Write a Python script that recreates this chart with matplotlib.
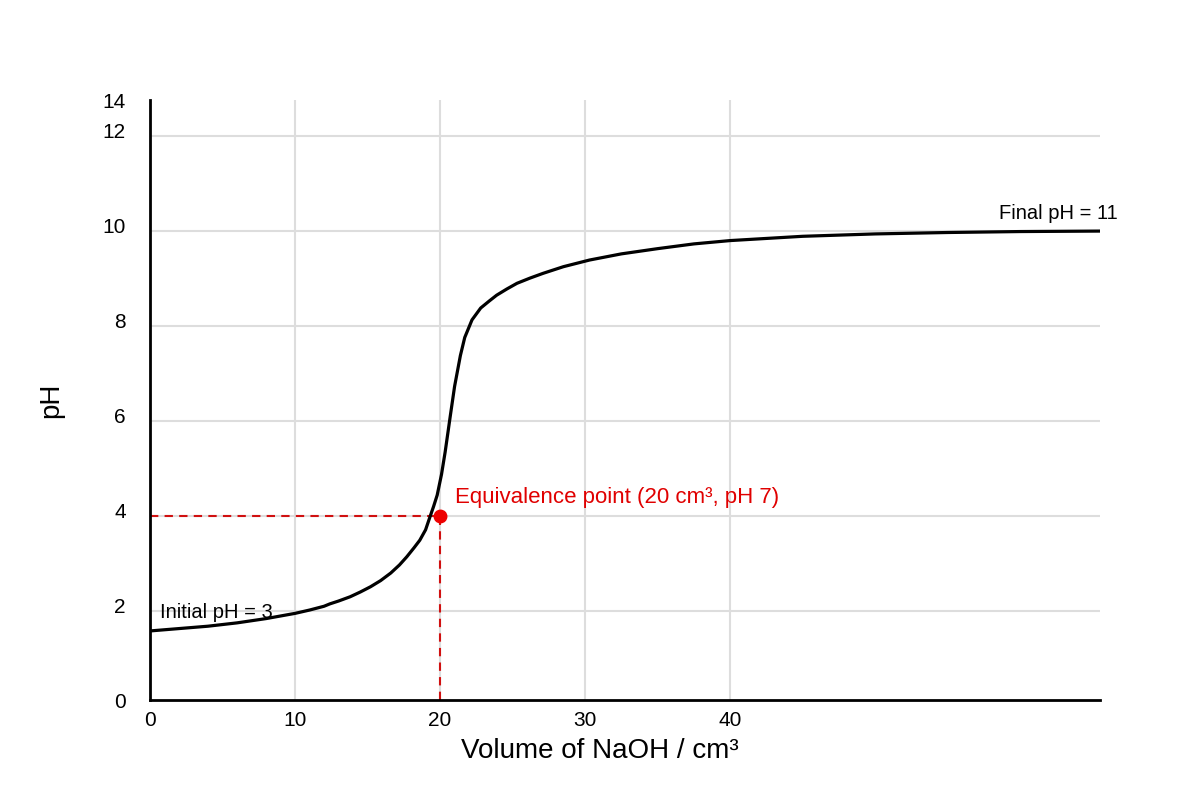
import numpy as np
import matplotlib
matplotlib.use('Agg')
import matplotlib.pyplot as plt

plt.rcParams['font.family'] = ['Liberation Sans', 'DejaVu Sans']

# titration curve (y in gridline units)
volume = [0, 2, 4, 6, 8, 10, 11, 12, 12.4, 13, 13.8, 14.5, 15.2, 15.9, 16.6,
          17.2, 17.7, 18.2, 18.6, 19.0, 19.3, 19.55, 19.8, 20.1, 20.35, 20.7,
          21.0, 21.4, 21.7, 22.2, 22.8, 23.4, 23.9, 24.6, 25.3, 26.2, 27.1,
          28.5, 30.3, 32.5, 35, 37.5, 40, 45, 50, 55, 60, 65.5]
ph = [1.58, 1.63, 1.68, 1.75, 1.84, 1.95, 2.02, 2.10, 2.15, 2.21, 2.30, 2.40,
      2.51, 2.64, 2.80, 2.97, 3.14, 3.33, 3.49, 3.71, 3.98, 4.20, 4.44, 4.88,
      5.35, 6.10, 6.73, 7.38, 7.76, 8.13, 8.38, 8.53, 8.65, 8.78, 8.90, 9.01,
      9.11, 9.25, 9.39, 9.52, 9.63, 9.73, 9.80, 9.89, 9.94, 9.97, 9.99, 10.0]

eq_x, eq_y = 20, 4
x_ticks = [0, 10, 20, 30, 40]
y_labels = ['0', '2', '4', '6', '8', '10', '12', '14']
grid_y = [2, 4, 6, 8, 10, 12]
grid_x = [10, 20, 30, 40]

fig = plt.figure(figsize=(12, 8), dpi=100)
ax = fig.add_axes([0.125, 0.125, 0.7917, 0.75])

y_lo, y_hi = 0.126, 12.76
x_hi = 65.5
ax.set_xlim(0, x_hi)
ax.set_ylim(y_lo, y_hi)

# grid
for g in grid_y:
    ax.axhline(g, color='#dddddd', lw=1.5, zorder=0)
for g in grid_x:
    ax.axvline(g, color='#dddddd', lw=1.5, zorder=0)

# curve
ax.plot(volume, ph, color='black', lw=2.3, solid_joinstyle='round',
        solid_capstyle='butt', zorder=3)

# equivalence point
ax.plot([0, eq_x], [eq_y, eq_y], color='#d01010', lw=1.5, ls=(0, (4, 3)), zorder=2)
ax.plot([eq_x, eq_x], [y_lo, eq_y], color='#d01010', lw=1.5, ls=(0, (4, 3)), zorder=2)
ax.plot([eq_x], [eq_y], 'o', color='#ee0000', ms=9, zorder=4)

ax.text(21.03, 4.4, 'Equivalence point (20 cm³, pH 7)', color='#e00000',
        fontsize=16, ha='left', va='center')
ax.text(0.69, 1.96, 'Initial pH = 3', fontsize=14.5, ha='left', va='center')
ax.text(66.7, 10.38, 'Final pH = 11', fontsize=14.5, ha='right', va='center')

# axes styling
for s in ['top', 'right']:
    ax.spines[s].set_visible(False)
for s in ['left', 'bottom']:
    ax.spines[s].set_linewidth(2)
    ax.spines[s].set_color('black')

ax.set_xticks(x_ticks)
ax.set_xticklabels([str(v) for v in x_ticks], fontsize=15)
ax.set_yticks([y_lo + 2 * i for i in range(7)] + [y_hi])
ax.set_yticklabels(y_labels, fontsize=15)
ax.tick_params(axis='x', length=0, pad=8)
ax.tick_params(axis='y', length=0, pad=17.5)

ax.set_xlabel('Volume of NaOH / cm³', fontsize=20)
ax.xaxis.set_label_coords(0.4737, -0.063)
ax.set_ylabel('pH', fontsize=20)
ax.yaxis.set_label_coords(-0.09, 0.5)

fig.savefig('out.png', dpi=100)
